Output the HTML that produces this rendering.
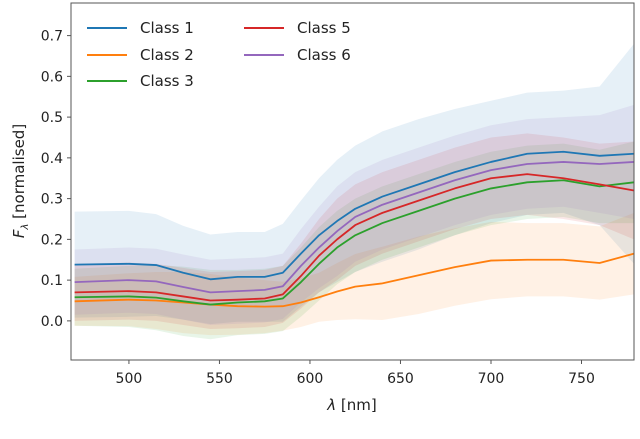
<!DOCTYPE html>
<html><head><meta charset="utf-8"><style>
html,body{margin:0;padding:0;background:#fff;}
svg{display:block;font-family:"DejaVu Sans","Liberation Sans",sans-serif;}
</style></head><body>
<svg id="chart" width="640" height="439" viewBox="0 0 640 439">
<g id="bands"></g>
<g id="lines"></g>
<rect x="71" y="3" width="563" height="357" fill="none" stroke="#555" stroke-width="1"/>
<g id="xticks"></g>
<g id="yticks"></g>
<text x="352" y="410" font-size="15" text-anchor="middle" fill="#222"><tspan font-style="italic">λ</tspan> [nm]</text>
<text transform="translate(24,181) rotate(-90)" font-size="15" text-anchor="middle" fill="#222"><tspan font-style="italic">F</tspan><tspan font-size="10" font-style="italic" dy="4">λ</tspan><tspan dy="-4"> [normalised]</tspan></text>
<g id="legend"></g>
</svg>
<script>
const wavelengths=[470,500,515,530,545,560,575,585,595,605,615,625,640,660,680,700,720,740,760,779];
const names=["Class 1","Class 2","Class 3","Class 5","Class 6"];
const colors=["#1f77b4","#ff7f0e","#2ca02c","#d62728","#9467bd"];
const class1=[0.138,0.14,0.137,0.118,0.102,0.108,0.108,0.118,0.165,0.21,0.245,0.275,0.305,0.335,0.365,0.39,0.41,0.415,0.405,0.41];
const class2=[0.048,0.052,0.05,0.045,0.04,0.036,0.035,0.036,0.045,0.058,0.072,0.084,0.092,0.112,0.132,0.148,0.15,0.15,0.142,0.165];
const class3=[0.058,0.06,0.057,0.048,0.04,0.045,0.048,0.055,0.095,0.14,0.18,0.21,0.24,0.27,0.3,0.325,0.34,0.345,0.33,0.34];
const class5=[0.07,0.073,0.07,0.06,0.05,0.052,0.055,0.065,0.11,0.16,0.2,0.235,0.265,0.295,0.325,0.35,0.36,0.35,0.335,0.32];
const class6=[0.095,0.1,0.097,0.083,0.07,0.073,0.076,0.085,0.135,0.18,0.22,0.255,0.285,0.315,0.345,0.37,0.385,0.39,0.385,0.39];
const sd1=[0.13,0.13,0.125,0.115,0.11,0.11,0.11,0.12,0.13,0.14,0.15,0.155,0.16,0.16,0.155,0.15,0.15,0.15,0.17,0.27];
const sd2=[0.06,0.065,0.07,0.075,0.075,0.07,0.065,0.06,0.06,0.06,0.07,0.08,0.09,0.095,0.095,0.095,0.09,0.09,0.09,0.1];
const sd3=[0.07,0.075,0.08,0.085,0.085,0.08,0.08,0.08,0.085,0.09,0.09,0.09,0.09,0.09,0.09,0.09,0.09,0.09,0.09,0.1];
const sd5=[0.07,0.07,0.07,0.07,0.07,0.07,0.07,0.07,0.08,0.09,0.1,0.1,0.1,0.1,0.1,0.1,0.1,0.1,0.1,0.12];
const sd6=[0.08,0.08,0.08,0.08,0.08,0.08,0.08,0.08,0.09,0.1,0.11,0.11,0.11,0.11,0.11,0.11,0.11,0.11,0.12,0.14];
const xTicks=[500,550,600,650,700,750];
const yTicks=[0.0,0.1,0.2,0.3,0.4,0.5,0.6,0.7];
const series=[class1,class2,class3,class5,class6];
const sds=[sd1,sd2,sd3,sd5,sd6];
const NS="http://www.w3.org/2000/svg";
const X0=71,X1=634,Y0=360,Y1=3,xmin=468,xmax=779,ymin=-0.096,ymax=0.78;
function xs(v){return X0+(v-xmin)/(xmax-xmin)*(X1-X0);}
function ys(v){return Y0-(v-ymin)/(ymax-ymin)*(Y0-Y1);}
function mk(t,a,p){const e=document.createElementNS(NS,t);for(const k in a)e.setAttribute(k,a[k]);p.appendChild(e);return e;}
const bands=document.getElementById('bands'),lines=document.getElementById('lines');
series.forEach((s,i)=>{
  let up=wavelengths.map((w,j)=>xs(w)+','+ys(Math.min(s[j]+sds[i][j],ymax))).join(' ');
  let lo=wavelengths.map((w,j)=>xs(w)+','+ys(Math.max(s[j]-sds[i][j],ymin))).reverse().join(' ');
  const b=mk('polygon',{points:up+' '+lo,fill:colors[i],'fill-opacity':0.11},bands);
  
  
});
series.forEach((s,i)=>{
  const l=mk('polyline',{points:wavelengths.map((w,j)=>xs(w)+','+ys(s[j])).join(' '),fill:'none',stroke:colors[i],'stroke-width':1.8,'stroke-linejoin':'round'},lines);
  
  
});
const xg=document.getElementById('xticks');
xTicks.forEach(t=>{
  const x=xs(t);
  mk('line',{x1:x,x2:x,y1:Y0,y2:Y0+4,stroke:'#555'},xg);
  const tx=mk('text',{x:x,y:Y0+23,'font-size':14,'text-anchor':'middle',fill:'#222'},xg);
  tx.textContent=t;
  
  
});
const yg=document.getElementById('yticks');
yTicks.forEach(t=>{
  const y=ys(t);
  mk('line',{x1:X0-4,x2:X0,y1:y,y2:y,stroke:'#555'},yg);
  const tx=mk('text',{x:X0-8,y:y+5,'font-size':14,'text-anchor':'end',fill:'#222'},yg);
  tx.textContent=t.toFixed(1);
  
  
});
const lg=document.getElementById('legend');
const pos=[[87,33],[87,60],[87,86],[244,33],[244,60]];
names.forEach((n,i)=>{
  const g=mk('g',{},lg);
  
  
  mk('line',{x1:pos[i][0],x2:pos[i][0]+40,y1:pos[i][1]-5,y2:pos[i][1]-5,stroke:colors[i],'stroke-width':2},g);
  const t=mk('text',{x:pos[i][0]+53,y:pos[i][1],'font-size':15,fill:'#222'},g);
  t.textContent=n;
});
</script>
</body></html>
